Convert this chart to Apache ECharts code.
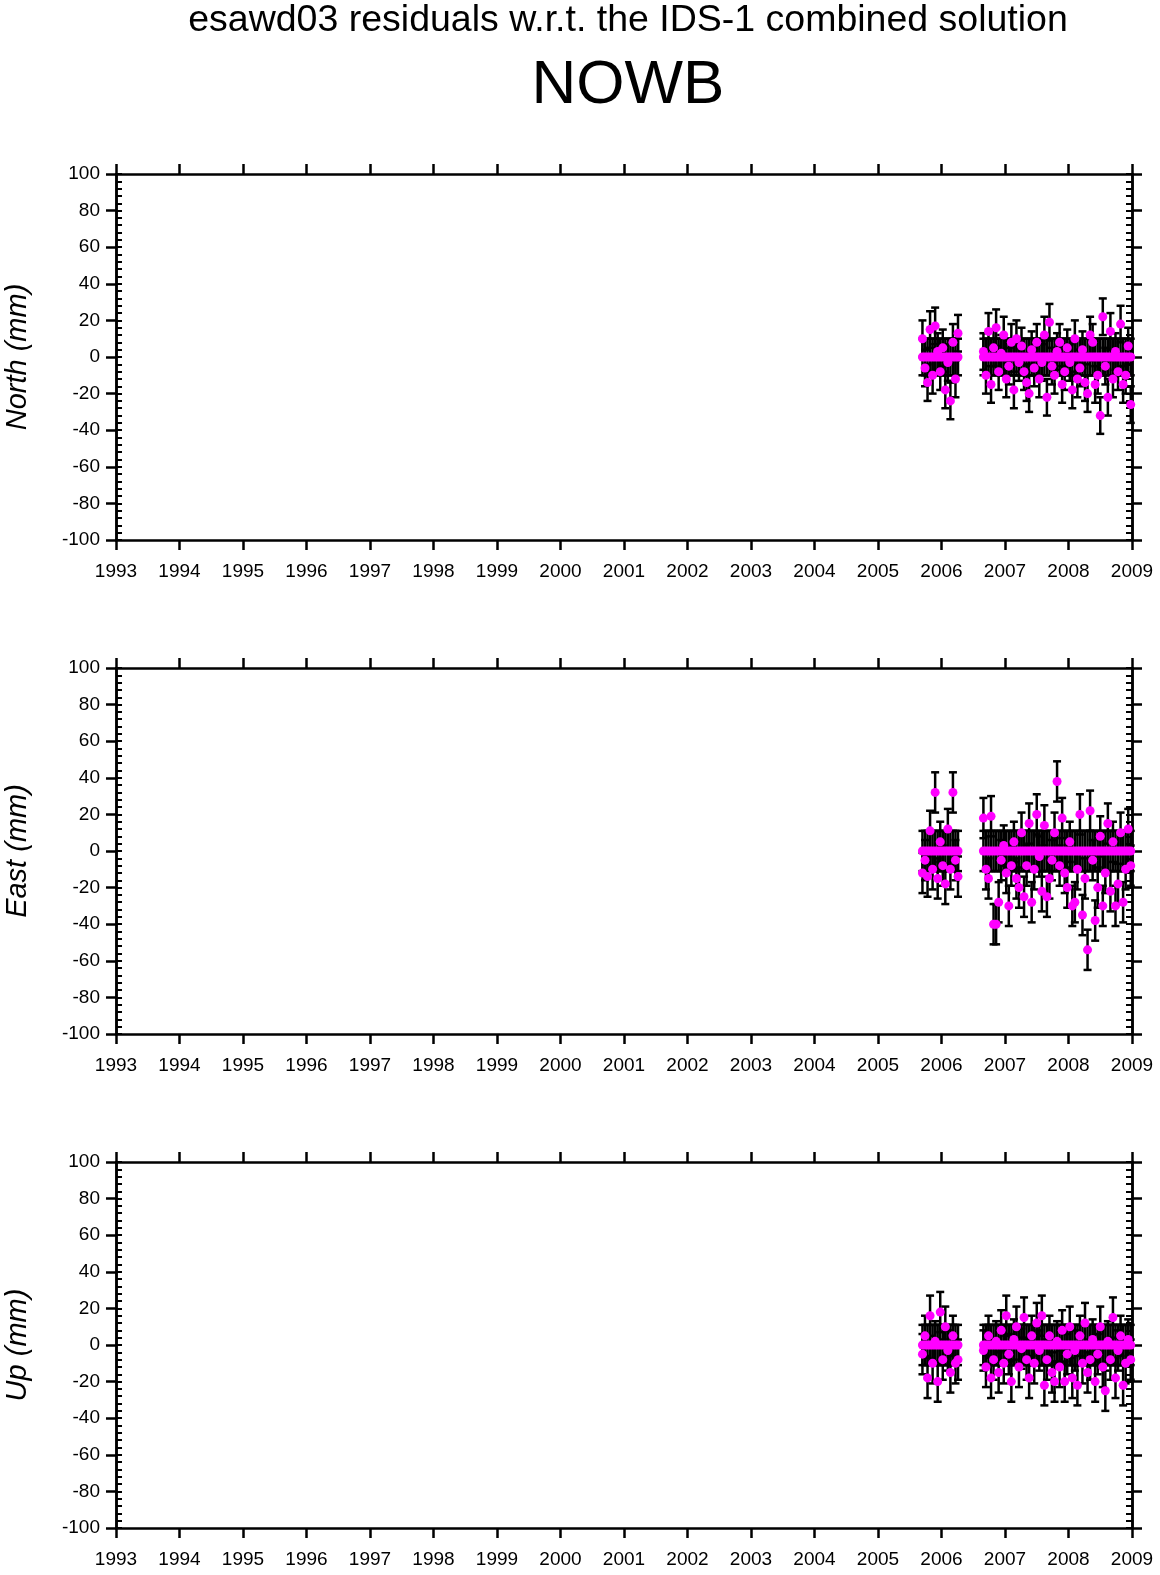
<!DOCTYPE html>
<html><head><meta charset="utf-8">
<script src="https://cdn.jsdelivr.net/npm/echarts@6/dist/echarts.min.js"></script>
<style>html,body{margin:0;padding:0;background:#fff}#c{width:1160px;height:1575px}</style>
</head><body><div id="c"></div>
<script>
const times1=[2005.70,2005.74,2005.78,2005.82,2005.86,2005.90,2005.94,2005.98,2006.02,2006.06,2006.10,2006.14,2006.18,2006.22,2006.26];
const times2=[2006.66,2006.70,2006.74,2006.78,2006.82,2006.86,2006.90,2006.94,2006.98,2007.02,2007.06,2007.10,2007.14,2007.18,2007.22,2007.26,2007.30,2007.34,2007.38,2007.42,2007.46,2007.50,2007.54,2007.58,2007.62,2007.66,2007.70,2007.74,2007.78,2007.82,2007.86,2007.90,2007.94,2007.98,2008.02,2008.06,2008.10,2008.14,2008.18,2008.22,2008.26,2008.30,2008.34,2008.38,2008.42,2008.46,2008.50,2008.54,2008.58,2008.62,2008.66,2008.70,2008.74,2008.78,2008.82,2008.86,2008.90,2008.94,2008.98];
const north=[10,-6,-14,15,-10,17,3,-8,5,-18,-3,-24,8,-12,13,
 3,-10,14,-15,5,16,-8,2,12,-12,-5,8,-18,10,-3,6,-8,-14,-20,4,-6,8,-12,-3,12,-22,19,-5,-10,3,8,-15,-8,5,-3,-18,10,-12,-6,4,-14,-20,12,8,-15,-10,-32,22,-5,-22,14,-12,3,-8,18,-15,-10,6,-26];
const east=[-12,-5,-14,11,-10,32,-15,5,-8,-18,12,-10,32,-5,-14,
 18,-10,-15,19,-40,-40,-28,-5,3,-12,-30,-8,5,-15,-20,10,-25,-8,15,-28,-10,20,-3,-22,14,-25,-15,-5,10,38,-8,18,-12,-20,5,-30,-28,-10,20,-35,-15,-54,22,-5,-38,-20,8,-30,-12,15,-22,5,-30,-18,10,-28,-10,12,-8];
const up=[-5,5,-18,16,-10,2,-20,18,-8,10,-3,-15,5,-10,-8,
 -3,-12,5,-18,-8,2,-15,8,-10,16,-5,-20,3,10,-12,-2,15,-8,-18,5,-10,12,-3,16,-22,-8,5,-15,-20,2,-12,8,-20,-5,10,-18,-3,-22,5,-10,12,-15,-8,3,-20,-5,10,-12,-25,2,-8,15,-18,-3,5,-22,-10,3,-8];
const sigmas={North:10,East:11,Up:11};
const panels=[['North',north],['East',east],['Up',up]];
const yearTicks=[1993,1994,1995,1996,1997,1998,1999,2000,2001,2002,2003,2004,2005,2006,2007,2008,2009];
const times=times1.concat(times2);

const FONT='Liberation Sans';
const tops=[174,668,1162], H=366;
const grid=[],xAxis=[],yAxis=[],series=[];
panels.forEach(([name,vals],i)=>{
  grid.push({left:116,right:28,top:tops[i],height:H,containLabel:false,outerBoundsMode:'none'});
  const xb={type:'value',gridIndex:i,min:1993,max:2009,interval:1,splitLine:{show:false},
    axisLine:{onZero:false,lineStyle:{color:'#000',width:2.5}},axisTick:{length:10,lineStyle:{color:'#000',width:2.5}}};
  xAxis.push(Object.assign({},xb,{position:'bottom',axisLabel:{color:'#000',fontFamily:FONT,fontSize:19,margin:22,formatter:v=>String(v)}}));
  xAxis.push(Object.assign({},xb,{position:'top',axisLabel:{show:false}}));
  const yb={type:'value',gridIndex:i,min:-100,max:100,splitLine:{show:false},
    axisLine:{show:true,onZero:false,lineStyle:{color:'#000',width:2.5}}};
  yAxis.push(Object.assign({},yb,{position:'left',interval:20,name:name+' (mm)',nameLocation:'middle',nameGap:84,
    nameTextStyle:{color:'#000',fontFamily:FONT,fontSize:29,fontStyle:'italic'},
    axisTick:{length:10,lineStyle:{color:'#000',width:2.5}},
    axisLabel:{color:'#000',fontFamily:FONT,fontSize:19,margin:16}}));
  yAxis.push(Object.assign({},yb,{position:'left',interval:4,axisLabel:{show:false},
    axisTick:{inside:true,length:6,lineStyle:{color:'#000',width:2}}}));
  yAxis.push(Object.assign({},yb,{position:'right',interval:20,axisLabel:{show:false},
    axisTick:{length:10,lineStyle:{color:'#000',width:2.5}}}));
  yAxis.push(Object.assign({},yb,{position:'right',interval:4,axisLabel:{show:false},
    axisTick:{inside:true,length:6,lineStyle:{color:'#000',width:2}}}));
  const s=sigmas[name];
  const zeroPts=times.map(t=>[t,0]);
  const resPts=times.map((t,k)=>[t,vals[k]]);
  const all=zeroPts.concat(resPts);
  series.push({type:'custom',xAxisIndex:2*i,yAxisIndex:4*i,data:all,clip:false,
    renderItem:(params,api)=>{
      const x=api.value(0),y=api.value(1);
      const a=api.coord([x,y-s]),b=api.coord([x,y+s]);
      const st={stroke:'#000',lineWidth:2.5};
      return {type:'group',children:[
        {type:'line',shape:{x1:a[0],y1:a[1],x2:b[0],y2:b[1]},style:st},
        {type:'line',shape:{x1:a[0]-4,y1:a[1],x2:a[0]+4,y2:a[1]},style:st},
        {type:'line',shape:{x1:b[0]-4,y1:b[1],x2:b[0]+4,y2:b[1]},style:st}]};
    }});
  series.push({type:'scatter',xAxisIndex:2*i,yAxisIndex:4*i,data:all,symbolSize:9,
    itemStyle:{color:'#ff00ff',opacity:1},z:5,clip:false});
});
const chart=echarts.init(document.getElementById('c'));
chart.setOption({animation:false,backgroundColor:'#fff',
  title:[{text:'esawd03 residuals w.r.t. the IDS-1 combined solution',left:623,textAlign:'center',top:-3,
    textStyle:{fontFamily:FONT,fontSize:37.5,fontWeight:'normal',color:'#000'}},
    {text:'NOWB',left:623,textAlign:'center',top:50,textStyle:{fontFamily:FONT,fontSize:62,fontWeight:'normal',color:'#000'}}],
  grid,xAxis,yAxis,series});
</script></body></html>
